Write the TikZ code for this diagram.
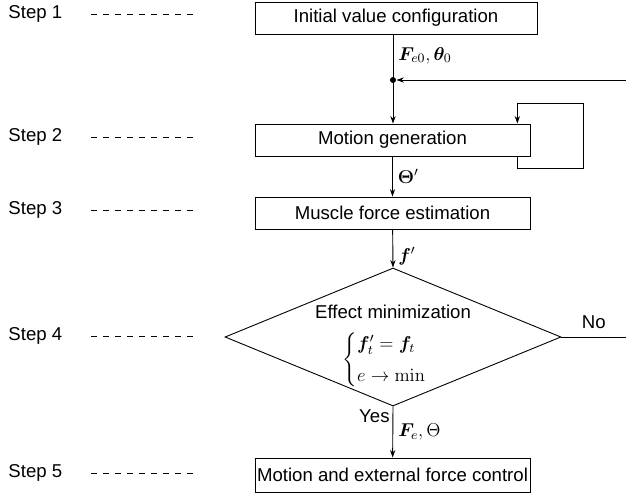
\RequirePackage{fix-cm}
\documentclass[tikz,border=0pt]{standalone}
\usepackage{amsmath}
\usepackage{bm}
\usepackage[no-math]{fontspec}
\setmainfont{Liberation Sans}
\usetikzlibrary{shapes.geometric,arrows.meta}

\begin{document}
\begin{tikzpicture}[
    x=0.6667pt, y=-0.6667pt,
    line width=0.6pt,
    font=\fontsize{12.4}{15}\selectfont,
    box/.style={draw, minimum width=183.3pt, minimum height=21.3pt, inner sep=0pt},
    decision/.style={draw, diamond, minimum width=224pt, minimum height=92pt, inner sep=0pt},
    steplabel/.style={anchor=west, inner sep=0pt},
    guide/.style={dash pattern=on 4pt off 4pt},
    arrow/.style={-{Stealth[length=5pt,width=3.5pt]}}
]
\useasboundingbox (0,0) rectangle (626,493);

% step labels on the left
\foreach \i/\y in {1/14,2/137,3/210,4/336,5/473} {
  \node[steplabel] (step\i) at (8,\y) {Step \i};
  \draw[guide] (91,\y) -- (197,\y);
}

% main blocks
\node[box, minimum width=188pt] (init) at (396,18) {Initial value configuration};
\node[box] (gen) at (392.5,140) {Motion generation};
\node[box] (est) at (392.5,213) {Muscle force estimation};
\node[decision] (dec) at (393,337) {};
\node[inner sep=0pt] (dectitle) at (393,312) {Effect minimization};
\node[inner sep=0pt] (deccases) at (394,360)
  {$\begin{cases} \bm{f}'_t = \bm{f}_t \\[3pt] e \rightarrow \min \end{cases}$};
\node[box, minimum height=22.7pt] (ctrl) at (392.5,475) {Motion and external force control};

\node[circle, fill, inner sep=0pt, minimum size=4pt] (junc) at (393,80) {};
\coordinate (fbin) at (626,80);
\coordinate (noend) at (626,337);

% connectors
\draw (init.south -| junc) -- node[right] {$\bm{F}_{e0}, \bm{\theta}_0$} (junc);
\draw[arrow] (fbin) -- (junc);
\draw[arrow] (junc) -- (junc |- gen.north);
\draw[arrow] ([xshift=-8.7pt]gen.south east) -- ++(0,12) -| ++(66,-65)
    -| ([xshift=-8.7pt]gen.north east);
\draw[arrow] (gen) -- node[right] {$\bm{\Theta}'$} (est);
\draw[arrow] (est) -- node[right, pos=0.7] {$\bm{f}'$} (dec.north);
\draw (dec.east) -- node[above, pos=0.5, yshift=2pt] {No} (noend);
\draw[arrow] (dec.south) -- node[pos=0, anchor=north east, inner sep=2pt] {Yes}
    node[right] {$\bm{F}_e, \Theta$} (ctrl);
\end{tikzpicture}
\end{document}
